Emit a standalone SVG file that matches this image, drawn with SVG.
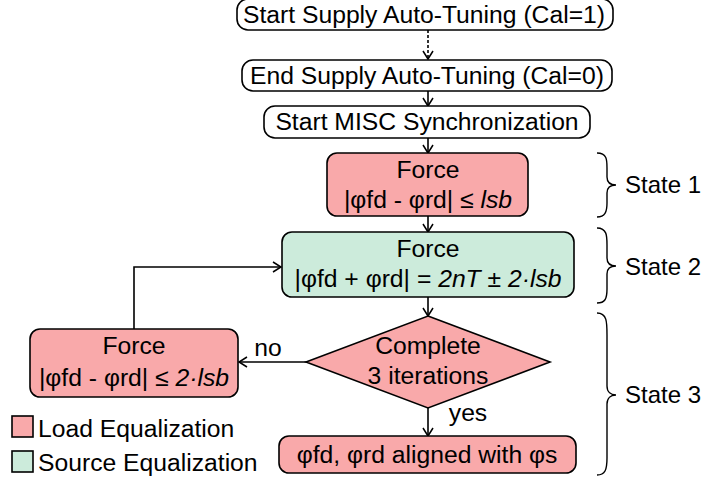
<svg xmlns="http://www.w3.org/2000/svg" width="705" height="480" viewBox="0 0 705 480">
<defs>
<style>
text{font-family:"Liberation Sans",Arial,sans-serif;font-size:24.7px;fill:#000}
.c{text-anchor:middle}
.i{font-style:italic}
.s{font-size:24px}
.box{stroke:#000;stroke-width:1.6}
.w{fill:#fff}
.p{fill:#F9A9AA}
.g{fill:#CCEBDB}
.ln{fill:none;stroke:#000;stroke-width:1.6}
.br{fill:none;stroke:#000;stroke-width:1.4}
</style>
<marker id="ah" markerWidth="12" markerHeight="12" refX="10" refY="6" orient="auto" markerUnits="userSpaceOnUse">
<path d="M2,1 L10,6 L2,11" fill="none" stroke="#000" stroke-width="1.5"/>
</marker>
</defs>
<rect width="705" height="480" fill="#fff"/>
<g id="connectors">
<line class="ln" x1="428" y1="30" x2="428" y2="59" stroke-dasharray="3,2" marker-end="url(#ah)"/>
<line class="ln" x1="428" y1="91" x2="428" y2="106" marker-end="url(#ah)"/>
<line class="ln" x1="428" y1="138" x2="428" y2="153" marker-end="url(#ah)"/>
<line class="ln" x1="428" y1="216" x2="428" y2="232" marker-end="url(#ah)"/>
<line class="ln" x1="428" y1="297" x2="428" y2="316" marker-end="url(#ah)"/>
<line class="ln" x1="306" y1="362" x2="239" y2="362" marker-end="url(#ah)"/>
<polyline class="ln" points="134,329 134,267 281,267" marker-end="url(#ah)"/>
<line class="ln" x1="428" y1="408" x2="428" y2="436" marker-end="url(#ah)"/>
<text x="268" y="356" class="c">no</text>
<text x="468" y="421" class="c">yes</text>
</g>
<g id="n1">
<rect class="box w" x="237" y="-1" width="376" height="31" rx="11"/>
<text x="424" y="23" class="c">Start Supply Auto-Tuning (Cal=1)</text>
</g>
<g id="n2">
<rect class="box w" x="242" y="60" width="370" height="31" rx="11"/>
<text x="427" y="84" class="c">End Supply Auto-Tuning (Cal=0)</text>
</g>
<g id="n3">
<rect class="box w" x="264" y="106" width="326" height="32" rx="11"/>
<text x="427" y="130" class="c">Start MISC Synchronization</text>
</g>
<g id="n4">
<rect class="box p" x="327" y="153" width="201" height="63" rx="10"/>
<text x="428" y="178" class="c">Force</text>
<text x="428" y="208" class="c">|φfd - φrd| ≤ <tspan class="i">lsb</tspan></text>
</g>
<g id="n5">
<rect class="box g" x="282" y="232" width="292" height="65" rx="10"/>
<text x="428" y="257" class="c">Force</text>
<text x="428" y="287" class="c">|φfd + φrd| = <tspan class="i">2nT</tspan> ± <tspan class="i">2·lsb</tspan></text>
</g>
<g id="n6">
<polygon class="box p" points="428,316 550,362 428,408 306,362"/>
<text x="428" y="354" class="c">Complete</text>
<text x="428" y="384" class="c">3 iterations</text>
</g>
<g id="n7">
<rect class="box p" x="30" y="329" width="208" height="68" rx="10"/>
<text x="134" y="354" class="c">Force</text>
<text x="134" y="386" class="c">|φfd - φrd| ≤ <tspan class="i">2·lsb</tspan></text>
</g>
<g id="n8">
<rect class="box p" x="279" y="436" width="297" height="37" rx="10"/>
<text x="427" y="463" class="c">φfd, φrd aligned with φs</text>
</g>
<g id="braces">
<path class="br" d="M597,153 C607,153 607,160 607,168 L607,177 C607,183 611,185 616,185 C611,185 607,187 607,193 L607,203 C607,212 605,217 597,217"/>
<text x="625" y="193" class="s">State 1</text>
<path class="br" d="M597,228 C607,228 607,236 607,245 L607,258 C607,264 611,266 616,266 C611,266 607,268 607,274 L607,289 C607,299 605,303 597,303"/>
<text x="625" y="275" class="s">State 2</text>
<path class="br" d="M597,313 C607,313 607,322 607,335 L607,386 C607,392 611,395 616,395 C611,395 607,398 607,404 L607,458 C607,470 605,475 597,475"/>
<text x="625" y="403" class="s">State 3</text>
</g>
<g id="legend">
<rect class="box p" x="12" y="416" width="21" height="21"/>
<text x="38" y="437">Load Equalization</text>
<rect class="box g" x="12" y="451" width="21" height="21"/>
<text x="38" y="471">Source Equalization</text>
</g>
</svg>
